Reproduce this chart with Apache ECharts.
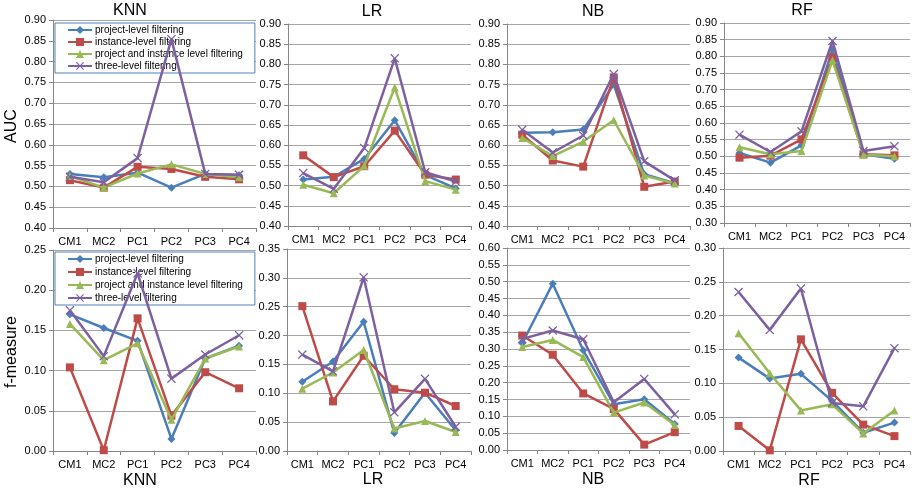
<!DOCTYPE html>
<html>
<head>
<meta charset="utf-8">
<script src="https://cdn.jsdelivr.net/npm/echarts@6/dist/echarts.min.js"></script>
<style>
    html, body { margin: 0; padding: 0; background: #fff; }
    #chart { width: 912px; height: 493px; }
</style>
</head>
<body>
<div id="chart"></div>
<script>
    const categories = ['CM1', 'MC2', 'PC1', 'PC2', 'PC3', 'PC4'];
    const seriesNames = ['project-level filtering', 'instance-level filtering',
        'project and instance level filtering', 'three-level filtering'];

    // rows: project, instance, project+instance, three-level
    const aucKNN = [
        [0.530, 0.522, 0.533, 0.497, 0.530, 0.527],
        [0.515, 0.497, 0.547, 0.542, 0.523, 0.517],
        [0.525, 0.497, 0.531, 0.553, 0.530, 0.522],
        [0.523, 0.510, 0.568, 0.854, 0.530, 0.528]
    ];
    const aucLR = [
        [0.515, 0.522, 0.566, 0.662, 0.526, 0.493],
        [0.575, 0.521, 0.548, 0.636, 0.527, 0.515],
        [0.502, 0.481, 0.549, 0.743, 0.511, 0.490],
        [0.531, 0.492, 0.593, 0.815, 0.533, 0.510]
    ];
    const aucNB = [
        [0.631, 0.632, 0.639, 0.750, 0.528, 0.506],
        [0.626, 0.562, 0.547, 0.768, 0.497, 0.510],
        [0.618, 0.573, 0.609, 0.662, 0.525, 0.505],
        [0.638, 0.582, 0.624, 0.776, 0.560, 0.513]
    ];
    const aucRF = [
        [0.510, 0.481, 0.533, 0.820, 0.506, 0.493],
        [0.496, 0.502, 0.551, 0.797, 0.506, 0.503],
        [0.527, 0.506, 0.516, 0.788, 0.505, 0.500],
        [0.565, 0.513, 0.575, 0.846, 0.516, 0.530]
    ];
    const fKNN = [
        [0.170, 0.153, 0.137, 0.015, 0.115, 0.131],
        [0.104, 0.001, 0.165, 0.044, 0.098, 0.078],
        [0.158, 0.113, 0.134, 0.039, 0.115, 0.130],
        [0.175, 0.118, 0.221, 0.090, 0.120, 0.144]
    ];
    const fLR = [
        [0.120, 0.155, 0.224, 0.031, 0.101, 0.036],
        [0.251, 0.086, 0.165, 0.107, 0.101, 0.078],
        [0.108, 0.136, 0.175, 0.039, 0.052, 0.033],
        [0.167, 0.138, 0.301, 0.067, 0.125, 0.042]
    ];
    const fNB = [
        [0.317, 0.494, 0.296, 0.136, 0.151, 0.077],
        [0.340, 0.283, 0.168, 0.122, 0.016, 0.053],
        [0.306, 0.327, 0.276, 0.111, 0.141, 0.074],
        [0.330, 0.355, 0.329, 0.142, 0.211, 0.106]
    ];
    const fRF = [
        [0.138, 0.107, 0.114, 0.074, 0.027, 0.042],
        [0.037, 0.001, 0.165, 0.086, 0.039, 0.022],
        [0.174, 0.115, 0.060, 0.069, 0.026, 0.060],
        [0.235, 0.179, 0.240, 0.071, 0.066, 0.152]
    ];

    const colors = ['#4a7ebb', '#be4b48', '#98b954', '#7d60a0'];
    const xMark = 'path://M0,1L1,0L5,4L9,0L10,1L6,5L10,9L9,10L5,6L1,10L0,9L4,5Z';
    const symbols = ['diamond', 'rect', 'triangle', xMark];
    const symbolSizes = [8, 8, 8, 9];

    // panel layout: data, y range, grid box
    const panels = [
        { data: aucKNN, min: 0.4, max: 0.9, box: [53, 20, 203, 208] },
        { data: aucLR, min: 0.4, max: 0.9, box: [288, 24, 183, 202] },
        { data: aucNB, min: 0.4, max: 0.9, box: [507, 24, 183, 202] },
        { data: aucRF, min: 0.3, max: 0.9, box: [724, 23, 186, 200] },
        { data: fKNN, min: 0, max: 0.25, box: [53, 250, 203, 201] },
        { data: fLR, min: 0, max: 0.35, box: [287, 249, 184, 202] },
        { data: fNB, min: 0, max: 0.6, box: [507, 248, 183, 202] },
        { data: fRF, min: 0, max: 0.3, box: [723, 248, 187, 203] }
    ];

    const titles = [
        ['KNN', 130, 11], ['LR', 372, 12], ['NB', 593, 12], ['RF', 802, 11],
        ['KNN', 140, 481], ['LR', 373, 480], ['NB', 593, 480], ['RF', 809, 481]
    ];

    let grid = [], xAxis = [], yAxis = [], series = [];

    panels.forEach(function (p, i) {
        grid.push({ left: p.box[0], top: p.box[1], width: p.box[2], height: p.box[3] });
        xAxis.push({
            type: 'category',
            gridIndex: i,
            data: categories,
            boundaryGap: true,
            axisLine: { lineStyle: { color: '#868686', width: 1 } },
            axisTick: { show: true, length: 4, lineStyle: { color: '#868686' } },
            axisLabel: { color: '#000', fontSize: 11, margin: 8, fontFamily: 'Liberation Sans' },
            splitLine: { show: false }
        });
        yAxis.push({
            type: 'value',
            gridIndex: i,
            min: p.min,
            max: p.max,
            interval: 0.05,
            axisLine: { show: true, lineStyle: { color: '#868686', width: 1 } },
            axisTick: { show: true, length: 4, lineStyle: { color: '#868686' } },
            axisLabel: {
                color: '#000', fontSize: 11, margin: 7, fontFamily: 'Liberation Sans',
                formatter: function (v) { return v.toFixed(2); }
            },
            splitLine: { show: true, lineStyle: { color: '#a6a6a6', width: 1 } }
        });
        p.data.forEach(function (row, k) {
            series.push({
                name: seriesNames[k],
                type: 'line',
                xAxisIndex: i,
                yAxisIndex: i,
                data: row,
                symbol: symbols[k],
                symbolSize: symbolSizes[k],
                showAllSymbol: true,
                lineStyle: { color: colors[k], width: 2.5 },
                itemStyle: { color: colors[k] },
                z: 2 + k
            });
        });
    });

    function makeLegend(top, gap) {
        return {
            orient: 'vertical',
            left: 55,
            top: top,
            z: 1,
            data: seriesNames,
            itemWidth: 24,
            itemHeight: 10,
            itemGap: gap,
            padding: [2, 12, 2, 12],
            backgroundColor: '#fff',
            borderColor: '#4f81bd',
            borderWidth: 1,
            borderRadius: 0,
            selectedMode: false,
            textStyle: { fontSize: 10, color: '#000', fontFamily: 'Liberation Sans', lineHeight: 10, padding: [0, 0, 0, -2] }
        };
    }

    let graphic = titles.map(function (t) {
        return {
            type: 'text', x: t[1], y: t[2],
            style: { text: t[0], fontSize: 16, fontFamily: 'Liberation Sans', fill: '#000', align: 'center', verticalAlign: 'middle' }
        };
    });
    graphic.push({
        type: 'text', x: 12, y: 126, rotation: Math.PI / 2,
        style: { text: 'AUC', fontSize: 16, fontFamily: 'Liberation Sans', fill: '#000', align: 'center', verticalAlign: 'middle' }
    });
    graphic.push({
        type: 'text', x: 12, y: 352, rotation: Math.PI / 2,
        style: { text: 'f-measure', fontSize: 16, fontFamily: 'Liberation Sans', fill: '#000', align: 'center', verticalAlign: 'middle' }
    });

    let myChart = echarts.init(document.getElementById('chart'));
    myChart.setOption({
        animation: false,
        color: colors,
        grid: grid,
        xAxis: xAxis,
        yAxis: yAxis,
        legend: [makeLegend(23, 2), makeLegend(252, 3)],
        graphic: graphic,
        series: series
    });
</script>
</body>
</html>
